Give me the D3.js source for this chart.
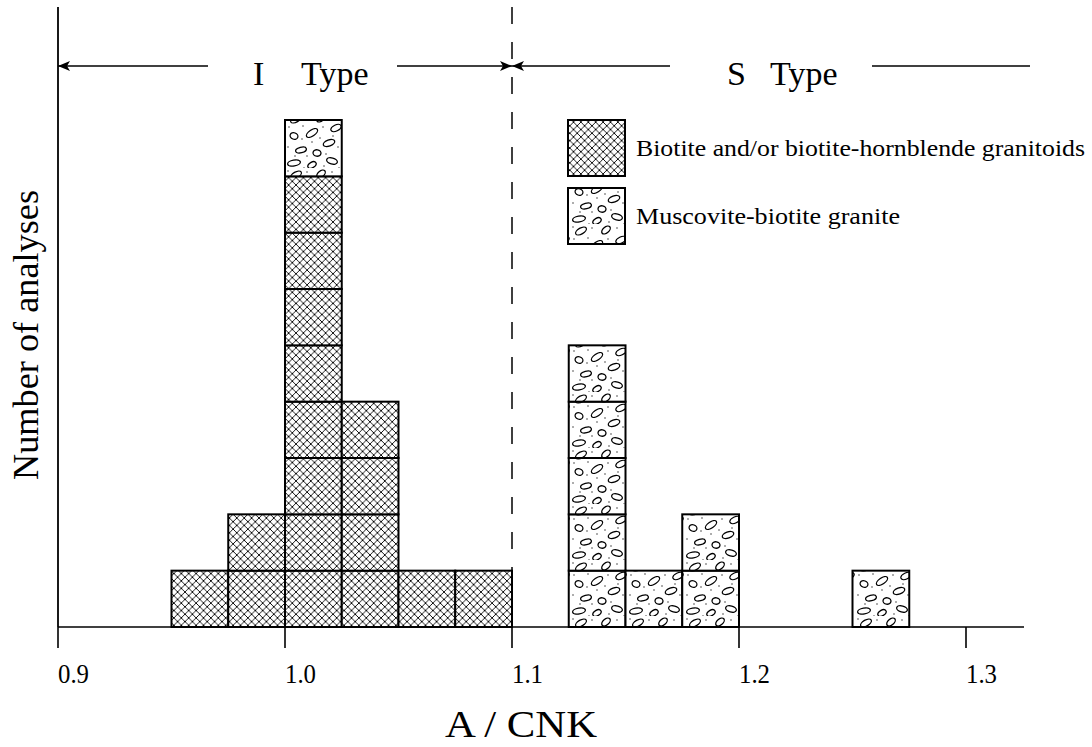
<!DOCTYPE html>
<html>
<head>
<meta charset="utf-8">
<script src="https://cdn.jsdelivr.net/npm/d3@7"></script>
<style>
  html, body { margin: 0; padding: 0; background: #fff; }
  svg { display: block; font-family: "Liberation Serif", "Times New Roman", serif; }
</style>
</head>
<body>
<svg id="chart" width="1092" height="747"></svg>
<script>
// A/CNK histogram bins (left edge of each 0.025-wide bin)
const binStart = [0.95, 0.975, 1.0, 1.025, 1.05, 1.075, 1.125, 1.15, 1.175, 1.25];
// Counts per bin for each rock group
const biotiteCounts   = [1, 2, 8, 4, 1, 1, 0, 0, 0, 0];
const muscoviteCounts = [0, 0, 1, 0, 0, 0, 5, 1, 2, 1];
const binWidth = 0.025;
const xTicks = [0.9, 1.0, 1.1, 1.2, 1.3];
const seriesNames = ["Biotite and/or biotite-hornblende granitoids", "Muscovite-biotite granite"];
const boundary = 1.1;

const svg = d3.select("#chart");
const x = d3.scaleLinear().domain([0.9, 1.3]).range([58, 966]);
const y = d3.scaleLinear().domain([0, 9]).range([627, 120]);

// ---- fill patterns ----
const defs = svg.append("defs");
const hp = 7.4;
const hatch = defs.append("pattern")
  .attr("id", "hatch").attr("patternUnits", "userSpaceOnUse")
  .attr("width", hp).attr("height", hp);
hatch.append("rect").attr("width", hp).attr("height", hp).attr("fill", "#fff");
hatch.append("path")
  .attr("d", `M-1,-1 L${hp + 1},${hp + 1} M-1,${hp + 1} L${hp + 1},-1`)
  .attr("stroke", "#000").attr("stroke-width", 0.9).attr("fill", "none");

const spk = defs.append("pattern")
  .attr("id", "speckle").attr("patternUnits", "userSpaceOnUse")
  .attr("width", 57).attr("height", 56);
spk.append("rect").attr("width", 57).attr("height", 56).attr("fill", "#fff");
// ellipse motifs: cx, cy, rx, ry, angle
const ovals = [
  [11, 7, 6, 3, -30], [36, 6, 5, 3, -40], [51, 16, 5.5, 3, -25],
  [9, 24, 4, 3.2, 20], [27, 21, 6.5, 3, -35], [44, 31, 6, 3, -20],
  [16, 38, 5.5, 2.8, -15], [32, 41, 4, 3.2, 10],
  [9, 51, 6.5, 3, -10], [27, 53, 4.5, 2.8, -30], [47, 49, 5.5, 3, 15]
];
ovals.forEach(o => {
  spk.append("ellipse").attr("cx", o[0]).attr("cy", o[1]).attr("rx", o[2]).attr("ry", o[3])
    .attr("transform", `rotate(${o[4]},${o[0]},${o[1]})`)
    .attr("fill", "none").attr("stroke", "#000").attr("stroke-width", 1.3);
});
const dots = [
  [3, 3], [22, 4], [47, 4], [4, 15], [18, 14], [38, 15], [27, 30], [53, 35],
  [3, 35], [22, 44], [41, 42], [54, 56], [17, 27], [39, 54], [19, 56], [35, 26],
  [10, 44], [48, 24]
];
dots.forEach(d => {
  spk.append("circle").attr("cx", d[0]).attr("cy", d[1]).attr("r", 0.8).attr("fill", "#444");
});

// ---- stacked cells ----
const cells = [];
binStart.forEach((b, i) => {
  for (let k = 0; k < biotiteCounts[i]; k++) cells.push({ b, level: k, fill: "url(#hatch)" });
  for (let k = 0; k < muscoviteCounts[i]; k++) cells.push({ b, level: biotiteCounts[i] + k, fill: "url(#speckle)" });
});
svg.append("g").selectAll("rect").data(cells).join("rect")
  .attr("x", d => x(d.b))
  .attr("y", d => y(d.level + 1))
  .attr("width", d => x(d.b + binWidth) - x(d.b))
  .attr("height", d => y(d.level) - y(d.level + 1))
  .attr("fill", d => d.fill)
  .attr("stroke", "#000").attr("stroke-width", 2);

// ---- axes ----
const axisG = svg.append("g").attr("transform", `translate(0,${y(0)})`);
axisG.append("line").attr("x1", x(0.9)).attr("x2", 1024).attr("stroke", "#000").attr("stroke-width", 1.6);
const tickG = axisG.selectAll("g.tick").data(xTicks).join("g").attr("class", "tick")
  .attr("transform", d => `translate(${x(d)},0)`);
tickG.append("line").attr("y1", 0).attr("y2", 21).attr("stroke", "#000").attr("stroke-width", 1.6);
tickG.append("text").attr("x", 0).attr("y", 56).attr("font-size", 27)
  .attr("textLength", 31).attr("lengthAdjust", "spacingAndGlyphs")
  .attr("text-anchor", "start").text(d => d3.format(".1f")(d));

svg.append("line").attr("x1", x(0.9)).attr("x2", x(0.9)).attr("y1", 7).attr("y2", y(0))
  .attr("stroke", "#000").attr("stroke-width", 1.8);

// I/S boundary
svg.append("line").attr("x1", x(boundary)).attr("x2", x(boundary)).attr("y1", 7).attr("y2", y(0))
  .attr("stroke", "#000").attr("stroke-width", 1.5).attr("stroke-dasharray", "17,18");

// axis titles
svg.append("text").attr("x", 445).attr("y", 737)
  .attr("font-size", 38).attr("textLength", 152).attr("lengthAdjust", "spacingAndGlyphs")
  .text("A / CNK");
svg.append("text").attr("transform", "translate(38,480) rotate(-90)")
  .attr("font-size", 36).attr("textLength", 290).attr("lengthAdjust", "spacingAndGlyphs")
  .text("Number of analyses");

// ---- type range arrows ----
defs.append("marker").attr("id", "arr").attr("viewBox", "0 0 12 10")
  .attr("refX", 12).attr("refY", 5).attr("markerWidth", 12).attr("markerHeight", 10)
  .attr("markerUnits", "userSpaceOnUse").attr("orient", "auto")
  .append("path").attr("d", "M0,0 L12,5 L0,10 L3,5 Z").attr("fill", "#000");
const ay = 66;
const arrows = [
  { x1: 208, x2: x(0.9), head: true },
  { x1: 397, x2: x(boundary), head: true },
  { x1: 670, x2: x(boundary), head: true },
  { x1: 872, x2: 1030, head: false }
];
svg.append("g").selectAll("line").data(arrows).join("line")
  .attr("x1", d => d.x1).attr("x2", d => d.x2).attr("y1", ay).attr("y2", ay)
  .attr("stroke", "#000").attr("stroke-width", 1.6)
  .attr("marker-end", d => d.head ? "url(#arr)" : null);

const typeLabels = [
  { t: "I", x: 253 }, { t: "Type", x: 301 },
  { t: "S", x: 727 }, { t: "Type", x: 770 }
];
svg.append("g").selectAll("text").data(typeLabels).join("text")
  .attr("x", d => d.x).attr("y", 85).attr("font-size", 34)
  .text(d => d.t);

// ---- legend ----
const legend = svg.append("g");
const legendFills = ["url(#hatch)", "url(#speckle)"];
const legendWidths = [449, 264];
seriesNames.forEach((name, i) => {
  const ly = 120 + i * 68;
  legend.append("rect").attr("x", 568).attr("y", ly).attr("width", 57).attr("height", 56)
    .attr("fill", legendFills[i]).attr("stroke", "#000").attr("stroke-width", 2);
  legend.append("text").attr("x", 636).attr("y", ly + 36).attr("font-size", 24)
    .attr("textLength", legendWidths[i]).attr("lengthAdjust", "spacingAndGlyphs")
    .text(name);
});
</script>
</body>
</html>
